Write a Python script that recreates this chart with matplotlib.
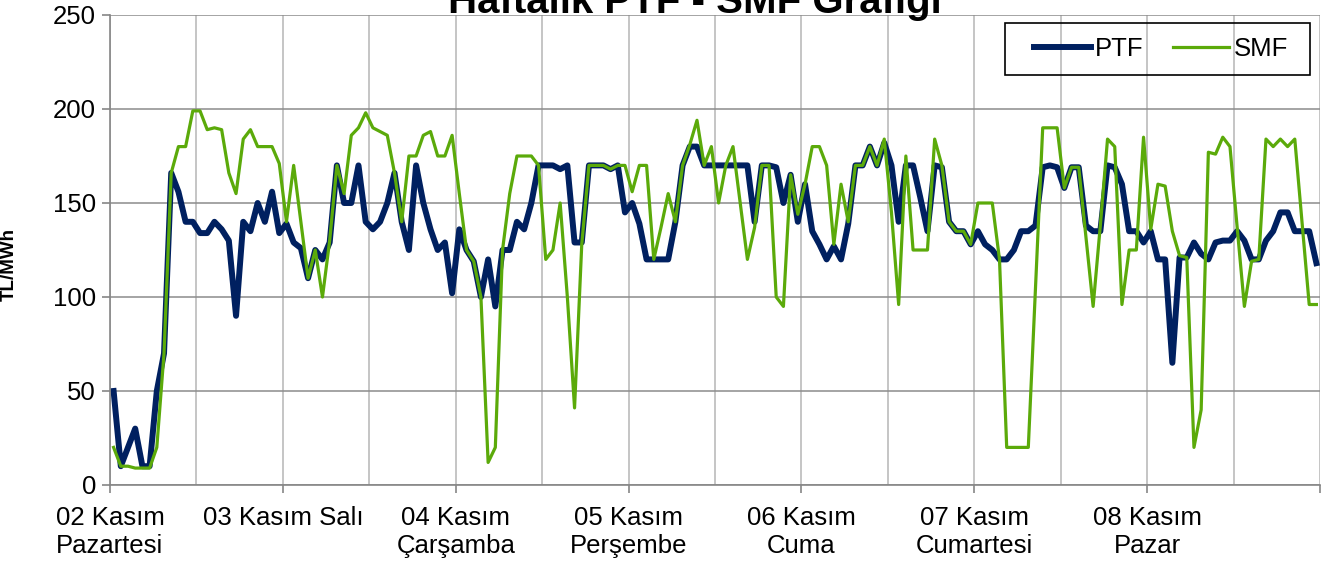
import matplotlib
matplotlib.use("Agg")
import matplotlib.pyplot as plt
from matplotlib.patches import Rectangle
import numpy as np

plt.rcParams["font.family"] = ["Liberation Sans", "DejaVu Sans"]

# Saatlik PTF degerleri (TL/MWh), gun gun
ptf_gunler = [
    [50, 10, 20, 30, 10, 10, 50, 70, 166, 156, 140, 140, 134, 134, 140, 136, 130, 90, 140, 135, 150, 140, 156, 134],
    [139, 129, 126, 110, 125, 120, 129, 170, 150, 150, 170, 140, 136, 140, 150, 166, 140, 125, 170, 150, 136, 125, 129, 102],
    [136, 125, 119, 100, 120, 95, 125, 125, 140, 136, 150, 170, 170, 170, 168, 170, 129, 129, 170, 170, 170, 168, 170, 145],
    [150, 139, 120, 120, 120, 120, 140, 170, 180, 180, 170, 170, 170, 170, 170, 170, 170, 140, 170, 170, 169, 150, 165, 140],
    [160, 135, 128, 120, 127, 120, 139, 170, 170, 180, 170, 182, 170, 140, 170, 170, 153, 135, 170, 169, 140, 135, 135, 128],
    [135, 128, 125, 120, 120, 125, 135, 135, 138, 169, 170, 169, 158, 169, 169, 138, 135, 135, 170, 169, 160, 135, 135, 129],
    [135, 120, 120, 65, 121, 121, 129, 123, 120, 129, 130, 130, 135, 130, 120, 120, 130, 135, 145, 145, 135, 135, 135, 118],
]

# Saatlik SMF degerleri (TL/MWh), gun gun
smf_gunler = [
    [20, 10, 10, 9, 9, 9, 20, 70, 166, 180, 180, 199, 199, 189, 190, 189, 166, 155, 184, 189, 180, 180, 180, 171],
    [140, 170, 140, 110, 125, 100, 130, 170, 155, 186, 190, 198, 190, 188, 186, 166, 140, 175, 175, 186, 188, 175, 175, 186],
    [155, 125, 119, 100, 12, 20, 125, 155, 175, 175, 175, 170, 120, 125, 150, 100, 41, 128, 170, 170, 170, 168, 170, 170],
    [156, 170, 170, 120, 137, 155, 140, 170, 181, 194, 170, 180, 150, 170, 180, 150, 120, 137, 170, 170, 100, 95, 165, 144],
    [160, 180, 180, 170, 128, 160, 140, 170, 170, 180, 170, 184, 145, 96, 175, 125, 125, 125, 184, 170, 140, 135, 135, 128],
    [150, 150, 150, 120, 20, 20, 20, 20, 105, 190, 190, 190, 158, 169, 169, 132, 95, 138, 184, 180, 96, 125, 125, 185],
    [136, 160, 159, 135, 122, 121, 20, 40, 177, 176, 185, 180, 137, 95, 119, 120, 184, 180, 184, 180, 184, 140, 96, 96],
]

gun_etiketleri = [
    "02 Kasım\nPazartesi",
    "03 Kasım Salı",
    "04 Kasım\nÇarşamba",
    "05 Kasım\nPerşembe",
    "06 Kasım\nCuma",
    "07 Kasım\nCumartesi",
    "08 Kasım\nPazar",
    "",
]

ptf = np.concatenate(ptf_gunler)
smf = np.concatenate(smf_gunler)
saatler = np.arange(len(ptf)) + 0.5

W, H = 1325, 566
fig = plt.figure(figsize=(W / 100, H / 100), dpi=100)
ax = fig.add_axes([110 / W, 81 / H, 1210 / W, 470 / H])

ax.plot(saatler, ptf, color="#002060", lw=4.3, label="PTF", solid_joinstyle="round")
ax.plot(saatler, smf, color="#5BAA0A", lw=2.3, label="SMF", solid_joinstyle="round")

ax.set_xlim(0, 168)
ax.set_ylim(0, 250)
ax.set_yticks(np.arange(0, 251, 50))
ax.set_xticks(np.arange(0, 169, 24))
ax.set_xticklabels(gun_etiketleri)
ax.set_xticks(np.arange(12, 169, 24), minor=True)

ax.grid(axis="y", which="major", color="#8c8c8c", lw=1.1)
ax.grid(axis="x", which="both", color="#c0c0c0", lw=1.3)
ax.set_axisbelow(True)

for s in ["top", "right"]:
    ax.spines[s].set_visible(False)
for s in ["left", "bottom"]:
    ax.spines[s].set_color("#868686")
    ax.spines[s].set_linewidth(1.2)

ax.tick_params(axis="both", which="major", labelsize=18.5, color="#868686",
               length=6, width=1.2, direction="out")
ax.tick_params(axis="x", which="major", pad=9)
ax.tick_params(axis="x", which="minor", length=0)
ax.tick_params(axis="y", pad=4)

ax.set_ylabel("TL/MWh", fontsize=13.5, fontweight="bold")
ax.yaxis.set_label_coords((18 - 110) / 1210, 0.47)

fig.text(695 / W, 1 - 13 / H, "Haftalık PTF - SMF Grafiği", ha="center",
         va="baseline", fontsize=29, fontweight="bold")

# lejant cercevesi ayri ciziliyor
fig.patches.append(Rectangle((1005 / W, 1 - 75 / H), 305 / W, 52 / H,
                             transform=fig.transFigure, fill=False,
                             edgecolor="black", lw=1.2))
leg = fig.legend(loc="center left", bbox_to_anchor=(1034 / W, 1 - 49 / H),
                 ncol=2, fontsize=18.5, frameon=False, borderaxespad=0,
                 borderpad=0, handlelength=2.2, handletextpad=0.16,
                 columnspacing=1.15)

fig.savefig("out.png", dpi=100)
